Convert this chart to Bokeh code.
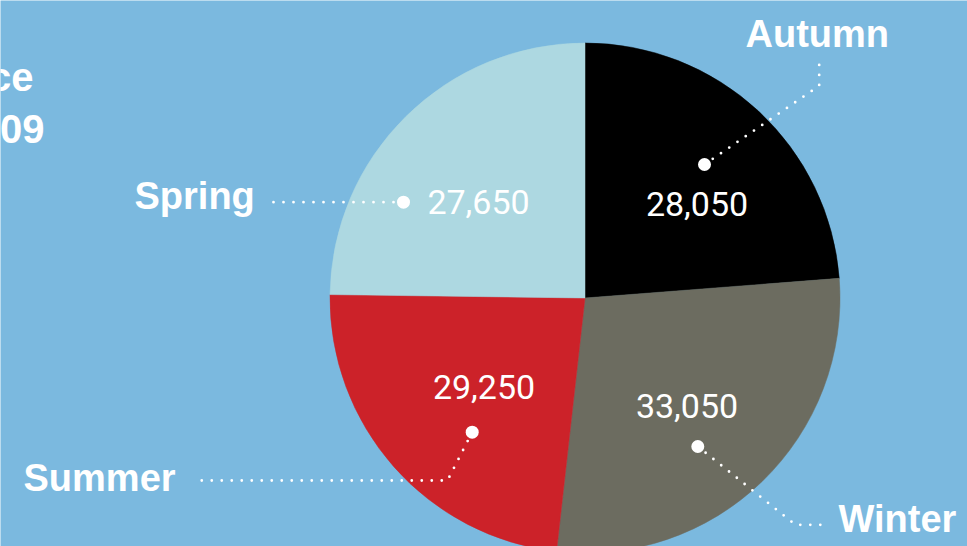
import numpy as np
from bokeh.plotting import figure
from bokeh.models import Range1d, ColumnDataSource
from bokeh.core.properties import value
from bokeh.embed import file_html
from bokeh.resources import INLINE

# ---- data (clockwise from 12 o'clock) ----
seasons = ["Autumn", "Winter", "Summer", "Spring"]
slice_values = [28050, 33050, 27650, 29250]   # wedge sizes as drawn in the picture
label_values = [28050, 33050, 29250, 27650]   # numbers printed on the wedges
colors = ["#000000", "#6C6C60", "#CC2229", "#ADD8E1"]
title_lines = ["ce", "09"]

BG = "#7BB9DF"

# ---- layout (page pixel coordinates; y measured downward) ----
W, H = 967, 546
CX, CY, R = 584.5, 297.5, 255
DY = 13  # text placement correction

p = figure(width=W, height=H, output_backend="svg", toolbar_location=None,
           x_axis_type=None, y_axis_type=None,
           x_range=Range1d(0, W), y_range=Range1d(-H, 0),
           min_border=0, outline_line_color=None,
           background_fill_color=BG, border_fill_color=BG)
p.grid.visible = False

# wedges from data
vals = np.array(slice_values, dtype=float)
tot = vals.sum()
cum_end = np.cumsum(vals)
cum_start = cum_end - vals
start = np.pi / 2 - 2 * np.pi * cum_end / tot
end = np.pi / 2 - 2 * np.pi * cum_start / tot
src = ColumnDataSource(dict(start=start, end=end, color=colors, season=seasons))
p.wedge(x=CX, y=-CY, radius=R, start_angle="start", end_angle="end",
        fill_color="color", line_color="color", line_width=0.5, source=src)

# annotation layout per season: anchor dot, leader path, season label, value label
anchors = {
    "Autumn": (704, 164),
    "Winter": (697.3, 446),
    "Summer": (471.7, 431.7),
    "Spring": (403, 201.7),
}
leaders = {
    "Autumn": [(704, 164), (818.7, 85.3), (818.7, 64)],
    "Winter": [(697.3, 446), (795, 524.3), (824, 524.3)],
    "Summer": [(471.7, 431.7), (447, 480), (196, 480)],
    "Spring": [(403, 201.7), (270, 201.7)],
}
season_pos = {
    "Autumn": (745, 46.7),
    "Winter": (838, 531),
    "Summer": (23, 490.5),
    "Spring": (134, 208.5),
}
value_pos = {
    "Autumn": (696.5, 216),
    "Winter": (686.5, 418),
    "Summer": (483.5, 399),
    "Spring": (478, 214.3),
}

for s in seasons:
    pts = leaders[s]
    p.line([q[0] for q in pts], [-q[1] for q in pts], line_color="white",
           line_width=2.8, line_dash="0 10", line_cap="round", line_join="round")

ax = [anchors[s][0] for s in seasons]
ay = [-anchors[s][1] for s in seasons]
p.scatter(ax, ay, size=13, marker="circle", fill_color="white", line_color=None)

p.text(x=[season_pos[s][0] for s in seasons],
       y=[-(season_pos[s][1] - DY) for s in seasons],
       text=seasons, text_font=value("Liberation Sans"), text_font_style="bold",
       text_font_size="38px", text_color="white", text_align="left",
       text_baseline="alphabetic")

p.text(x=[value_pos[s][0] for s in seasons],
       y=[-(value_pos[s][1] - DY) for s in seasons],
       text=[f"{v:,}" for v in label_values], text_font=value("Roboto"),
       text_font_size="34px", text_color="white", text_align="center",
       text_baseline="alphabetic")

# cut-off title at the left edge
p.text(x=[33, 44], y=[-(89.3 - DY), -(141.7 - DY)], text=title_lines,
       text_font=value("Liberation Sans"), text_font_style="bold",
       text_font_size="40px", text_color="white", text_align="right",
       text_baseline="alphabetic")

open("out.html", "w").write(file_html(p, INLINE))
